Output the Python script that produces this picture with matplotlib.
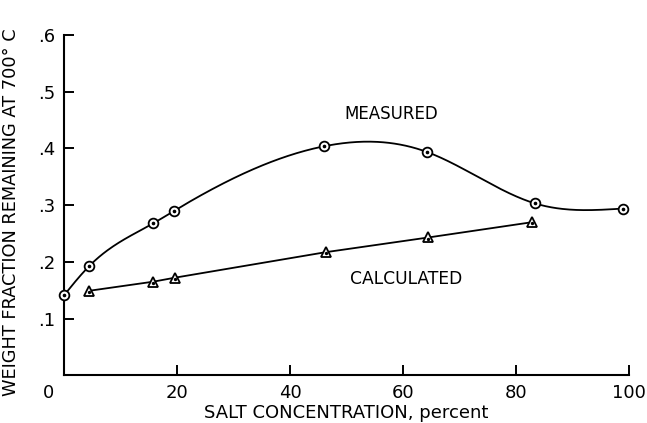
import numpy as np
import matplotlib
matplotlib.use("Agg")
import matplotlib.pyplot as plt
import matplotlib.transforms as mtransforms

plt.rcParams["font.family"] = ["DejaVu Sans"]

# measured points (circles)
meas_x = [0.0, 4.5, 15.8, 19.5, 46.1, 64.2, 83.4, 98.9]
meas_y = [0.141, 0.193, 0.268, 0.290, 0.404, 0.394, 0.303, 0.294]

# calculated points (triangles)
calc_x = [4.5, 15.8, 19.6, 46.3, 64.5, 82.9]
calc_y = [0.149, 0.165, 0.172, 0.217, 0.243, 0.270]

x_ticks = [0, 20, 40, 60, 80, 100]
y_ticks = [0.1, 0.2, 0.3, 0.4, 0.5, 0.6]
y_tick_labels = [".1", ".2", ".3", ".4", ".5", ".6"]


def natural_spline(x, y, n=400):
    # smooth curve through the measured points, like the hand-drawn one
    x = np.asarray(x, float)
    y = np.asarray(y, float)
    k = len(x)
    h = np.diff(x)
    A = np.zeros((k, k))
    r = np.zeros(k)
    A[0, 0] = 1
    A[-1, -1] = 1
    for i in range(1, k - 1):
        A[i, i - 1] = h[i - 1]
        A[i, i] = 2 * (h[i - 1] + h[i])
        A[i, i + 1] = h[i]
        r[i] = 6 * ((y[i + 1] - y[i]) / h[i] - (y[i] - y[i - 1]) / h[i - 1])
    M = np.linalg.solve(A, r)
    xs = np.linspace(x[0], x[-1], n)
    idx = np.clip(np.searchsorted(x, xs) - 1, 0, k - 2)
    x0, x1 = x[idx], x[idx + 1]
    hh = x1 - x0
    a = (x1 - xs) / hh
    b = (xs - x0) / hh
    ys = (a * y[idx] + b * y[idx + 1]
          + ((a ** 3 - a) * M[idx] + (b ** 3 - b) * M[idx + 1]) * hh ** 2 / 6)
    return xs, ys


fig = plt.figure(figsize=(6.47, 4.23), dpi=100)
ax = fig.add_axes([0.099, 0.113, 0.873, 0.804])

sx, sy = natural_spline(meas_x, meas_y)
ax.plot(sx, sy, color="black", lw=1.3, zorder=2)
ax.plot(calc_x, calc_y, color="black", lw=1.3, zorder=2)

ax.plot(meas_x, meas_y, "o", ms=7, mfc="white", mec="black", mew=1.3, zorder=3,
        clip_on=False)
ax.plot(meas_x, meas_y, "o", ms=1.6, color="black", zorder=4, clip_on=False)
ax.plot(calc_x, calc_y, "^", ms=7.5, mfc="white", mec="black", mew=1.3, zorder=3)
ax.plot(calc_x, [v - 0.002 for v in calc_y], "o", ms=1.4, color="black", zorder=4)

ax.text(58, 0.461, "MEASURED", fontsize=12, ha="center", va="center")
ax.text(60.6, 0.169, "CALCULATED", fontsize=12.3, ha="center", va="center")

ax.set_xlim(0, 100)
ax.set_ylim(0, 0.6)
ax.set_xticks(x_ticks)
ax.set_xticklabels([str(t) for t in x_ticks])
ax.set_yticks(y_ticks)
ax.set_yticklabels(y_tick_labels)
ax.tick_params(direction="in", length=7.5, width=1.4, labelsize=13)
ax.tick_params(axis="x", pad=6)
ax.tick_params(axis="y", pad=6)

# the "0" sits left of the origin
shift = mtransforms.ScaledTranslation(-11 / 72, 0, fig.dpi_scale_trans)
lab0 = ax.get_xticklabels()[0]
lab0.set_transform(lab0.get_transform() + shift)
ax.xaxis.get_major_ticks()[0].tick1line.set_visible(False)

for s in ["top", "right"]:
    ax.spines[s].set_visible(False)
for s in ["left", "bottom"]:
    ax.spines[s].set_linewidth(1.5)

ax.set_xlabel("SALT CONCENTRATION, percent", fontsize=13)
ax.set_ylabel("WEIGHT FRACTION REMAINING AT 700° C", fontsize=12.8)
ax.xaxis.set_label_coords(0.5, -0.085)
ax.yaxis.set_label_coords(-0.078, 0.48)

fig.savefig("out.png", dpi=100)
